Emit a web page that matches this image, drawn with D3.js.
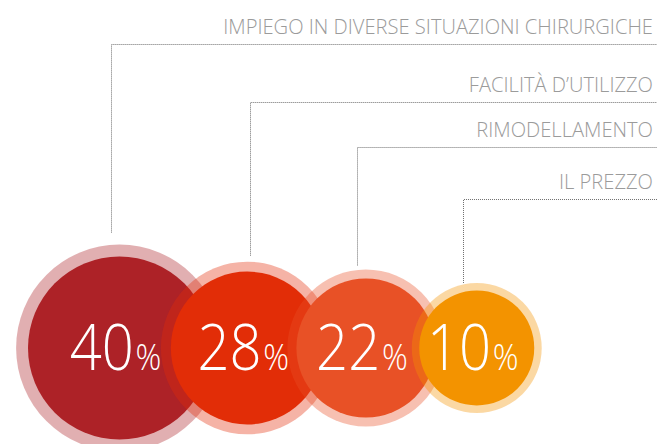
<!DOCTYPE html>
<html>
<head>
<meta charset="utf-8">
<script src="https://cdn.jsdelivr.net/npm/d3@7"></script>
<style>
  html, body { margin: 0; padding: 0; background: #ffffff; }
  svg { display: block; }
</style>
</head>
<body>
<script>
// ---- data ----
const categories = [
  "IMPIEGO IN DIVERSE SITUAZIONI CHIRURGICHE",
  "FACILITÀ D’UTILIZZO",
  "RIMODELLAMENTO",
  "IL PREZZO"
];
const values = [40, 28, 22, 10];
const colors = ["#ad2227", "#e22d07", "#e85126", "#f39300"];

// ---- layout / style ----
const W = 657, H = 444;
const cy = 348;
const haloFactor = 1.13;
const haloOpacity = 0.36;
const rowY = [44, 102, 147, 199];        // label row (dotted line) positions
const leaderDx = [-9, 3, -9, -13.5];     // leader x offset from circle centre
const leaderGap = [12, 6, 4, 0];         // gap between leader end and halo top
const FONT = "'Open Sans', Roboto, sans-serif";

const svg = d3.select("body").append("svg")
  .attr("width", W).attr("height", H);

const r = d3.scalePow().exponent(1.3).domain([10, 40]).range([57.5, 91.5]);

// centres: packed from the radii
const cxs = [];
let x = 119.5;
values.forEach((v, i) => {
  if (i > 0) x += 0.413 * (r(values[i - 1]) + r(v)) + 58.4;
  cxs.push(x);
});

const rows = d3.scaleOrdinal().domain(categories).range(rowY);

// ---- leader lines ----
const lead = svg.append("g");
categories.forEach((c, i) => {
  const lx = Math.round(cxs[i] + leaderDx[i]) + 0.5;
  const ly = Math.round(rows(c)) + 0.5;
  const bottom = cy - r(values[i]) * haloFactor - leaderGap[i];
  lead.append("path")
    .attr("d", `M${lx},${bottom}L${lx},${ly}L${W},${ly}`)
    .attr("fill", "none")
    .attr("stroke", "#6f6f6f")
    .attr("stroke-width", 1)
    .attr("stroke-dasharray", "1,1");
});

// ---- labels ----
const labels = svg.append("g");
const labelNodes = categories.map((c, i) =>
  labels.append("text")
    .attr("x", 0).attr("y", 0)
    .attr("text-anchor", "end")
    .attr("font-family", FONT)
    .attr("font-weight", 300)
    .attr("font-size", 21)
    .attr("fill", "#9b9b9b")
    .text(c)
);
const lsx = 430 / labelNodes[0].node().getComputedTextLength();
labelNodes.forEach((t, i) => {
  t.attr("transform", `translate(653,${rows(categories[i]) - 10}) scale(${lsx},1)`);
});

// ---- circles ----
const g = svg.append("g");
const items = g.selectAll("g.item")
  .data(values.map((v, i) => ({ v, i })))
  .join("g").attr("class", "item");

items.append("circle")
  .attr("cx", d => cxs[d.i]).attr("cy", cy)
  .attr("r", d => r(d.v) * haloFactor)
  .attr("fill", d => colors[d.i])
  .attr("fill-opacity", haloOpacity);

items.append("circle")
  .attr("cx", d => cxs[d.i]).attr("cy", cy)
  .attr("r", d => r(d.v))
  .attr("fill", d => colors[d.i]);

const pct = items.append("text")
  .attr("text-anchor", "middle")
  .attr("font-family", FONT)
  .attr("font-weight", 300)
  .attr("fill", "#ffffff");
pct.append("tspan").attr("font-size", 65).text(d => d.v);
pct.append("tspan").attr("font-size", 37).attr("dx", 2).text("%");

const psx = 90 / pct.nodes()[0].getComputedTextLength();
pct.attr("transform", d => `translate(${cxs[d.i] - 4},${cy + 22}) scale(${psx},1)`);
</script>
</body>
</html>
